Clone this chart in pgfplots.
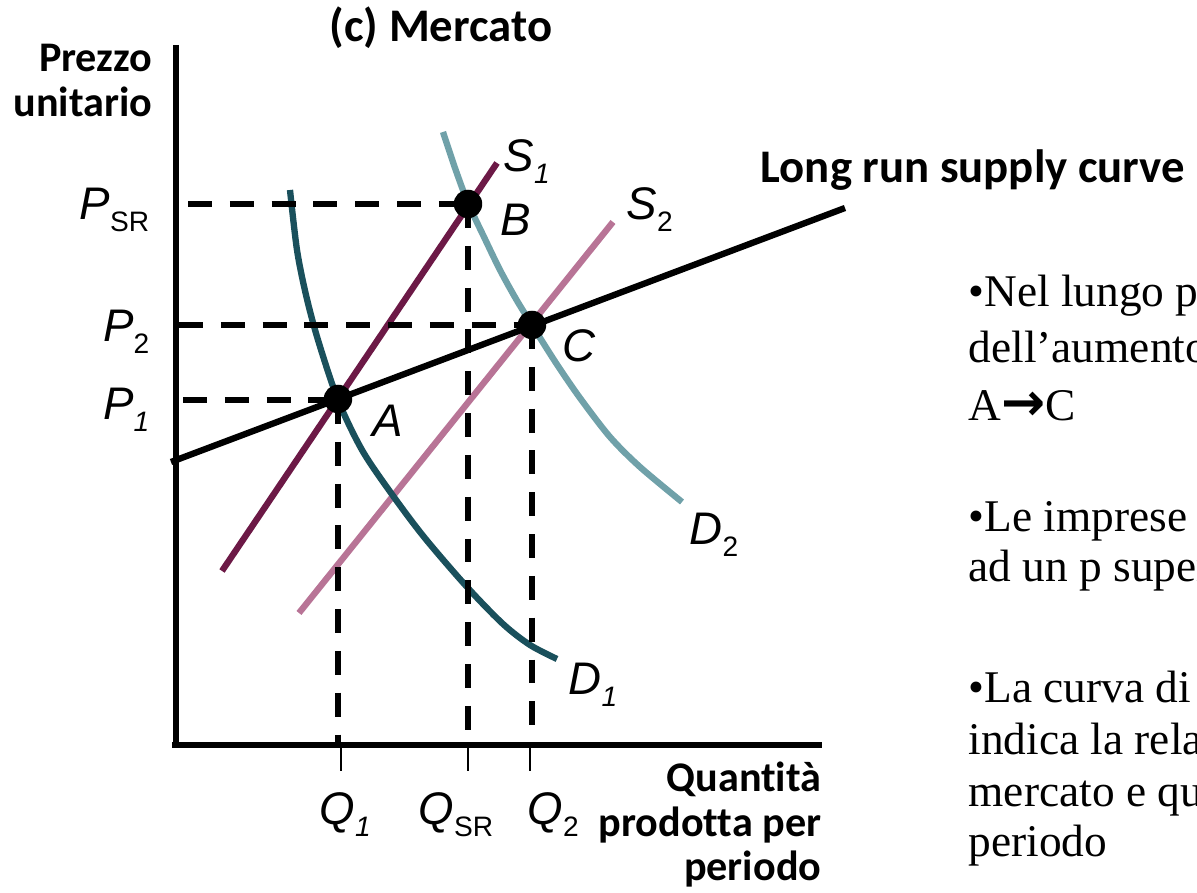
\documentclass[border=0pt]{standalone}
\usepackage{pgfplots}
\pgfplotsset{compat=1.18}
\usepackage{fontspec}
\setmainfont{Liberation Serif}
\newfontfamily\calibri[Ligatures=NoCommon]{Carlito}
\newfontfamily\arial{Liberation Sans}
\newfontfamily\dejavu{DejaVu Sans}
\definecolor{sone}{RGB}{108,25,70}
\definecolor{stwo}{RGB}{184,116,150}
\definecolor{done}{RGB}{26,80,92}
\definecolor{dtwo}{RGB}{112,161,169}
\newcommand{\lab}[2]{{\arial\itshape #1}\raisebox{-3.4pt}{\arial\fontsize{8}{8}\selectfont #2}}
\tikzset{
  cal/.style={inner sep=0pt, font=\calibri\bfseries\fontsize{13.3}{15}\selectfont},
  cals/.style={inner sep=0pt, font=\calibri\bfseries\fontsize{12}{14}\selectfont},
  ari/.style={inner sep=0pt, font=\fontsize{13}{15}\selectfont},
  gar/.style={inner sep=0pt, anchor=base west, font=\fontsize{12.9}{15}\selectfont},
}
\begin{document}
\begin{tikzpicture}
\useasboundingbox (0,0) rectangle (11.97cm,8.93cm);
\clip (0,0) rectangle (11.97cm,8.93cm);
\begin{axis}[
  at={(0,0)}, anchor=south west,
  scale only axis, width=11.97cm, height=8.93cm,
  xmin=0, xmax=1197, ymin=0, ymax=893, y dir=reverse,
  hide axis, clip=false,
]
% axes
\addplot[black, line width=1.6pt] coordinates {(176,45) (176,748)};
\addplot[black, line width=1.6pt] coordinates {(172,745) (822,745)};
% ticks
\addplot[black, line width=0.8pt] coordinates {(341,745) (341,771)};
\addplot[black, line width=0.8pt] coordinates {(468,745) (468,771)};
\addplot[black, line width=0.8pt] coordinates {(530,745) (530,771)};
% supply curves
\addplot[sone, line width=1.8pt] coordinates {(222,571) (497,163)};
\addplot[stwo, line width=1.8pt] coordinates {(299,613) (613,222)};
% demand curves
\addplot[done, line width=1.8pt, smooth] coordinates {(290,190) (297,250) (306,295) (318,340) (338,400) (362,450) (391,493) (424,537) (467,587) (503,624) (530,645) (557,659)};
\addplot[dtwo, line width=1.8pt, smooth] coordinates {(443,132) (455,168) (468,203) (484,237) (500,270) (516,299) (532,325) (556,363) (580,398) (610,437) (640,467) (682,502)};
% long run supply
\addplot[black, line width=1.8pt] coordinates {(171,462) (845,208)};
% dashed guides
\addplot[black, line width=1.5pt, dash pattern=on 6.8pt off 5.1pt] coordinates {(188,204) (468,204)};
\addplot[black, line width=1.5pt, dash pattern=on 6.8pt off 5.1pt] coordinates {(179,325) (532,325)};
\addplot[black, line width=1.5pt, dash pattern=on 6.8pt off 5.1pt] coordinates {(183,400) (338,400)};
\addplot[black, line width=1.5pt, dash pattern=on 6.8pt off 5.1pt] coordinates {(338,400) (338,745)};
\addplot[black, line width=1.5pt, dash pattern=on 6.8pt off 5.1pt] coordinates {(468,204) (468,745)};
\addplot[black, line width=1.5pt, dash pattern=on 6.8pt off 5.1pt] coordinates {(532,325) (532,745)};
% equilibrium points
\addplot[only marks, mark=*, mark size=3.85pt, black] coordinates {(338,399) (468,204) (532,325)};
% titles and axis labels
\node[cal, anchor=base] at (441,42) {(c) Mercato};
\node[cals, anchor=base east] at (153,72) {Prezzo};
\node[cals, anchor=base east] at (153,117) {unitario};
\node[cal, anchor=base west] at (760,183) {Long run supply curve};
\node[cals, anchor=base east] at (822,792) {Quantità};
\node[cals, anchor=base east] at (822,837) {prodotta per};
\node[cals, anchor=base east] at (822,881) {periodo};
% price labels
\node[ari, anchor=base east] at (150,220) {\lab{P}{SR}};
\node[ari, anchor=base east] at (150,342) {\lab{P}{2}};
\node[ari, anchor=base east] at (150,420) {\lab{P}{\itshape 1}};
% quantity labels
\node[ari, anchor=base west] at (319,825) {\lab{Q}{\itshape 1}};
\node[ari, anchor=base west] at (418,825) {\lab{Q}{SR}};
\node[ari, anchor=base west] at (527,825) {\lab{Q}{2}};
% point labels
\node[ari, anchor=base west] at (372,437) {\arial\itshape A};
\node[ari, anchor=base west] at (500,236) {\arial\itshape B};
\node[ari, anchor=base west] at (562,362) {\arial\itshape C};
% curve labels
\node[ari, anchor=base west] at (503,172) {\lab{S}{\itshape 1}};
\node[ari, anchor=base west] at (626,220) {\lab{S}{2}};
\node[ari, anchor=base west] at (689,545) {\lab{D}{2}};
\node[ari, anchor=base west] at (568,695) {\lab{D}{\itshape 1}};
% side text
\node[gar] at (968,307) {•Nel lungo periodo, a seguito};
\node[gar] at (968,363) {dell’aumento della domanda:};
\node[gar] at (968,421) {A{\dejavu\bfseries\fontsize{15}{15}\selectfont →}C};
\node[gar] at (968,532) {•Le imprese entrano nel mercato};
\node[gar] at (968,582) {ad un p superiore al minimo};
\node[gar] at (968,703) {•La curva di offerta di lungo periodo};
\node[gar] at (968,755) {indica la relazione tra prezzo di};
\node[gar] at (968,807) {mercato e quantità prodotta per};
\node[gar] at (968,857) {periodo};
\end{axis}
\end{tikzpicture}
\end{document}
